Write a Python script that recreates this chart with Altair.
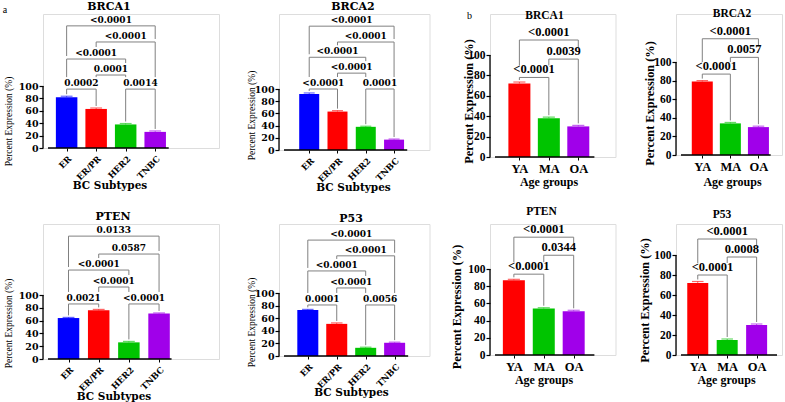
import json
import altair as alt
import pandas as pd

# ---------------- data ----------------
SUBTYPES = ["ER", "ER/PR", "HER2", "TNBC"]
AGE_GROUPS = ["YA", "MA", "OA"]
SUBTYPE_COLORS = ["#0000FF", "#FF0000", "#00C400", "#A000EA"]
AGE_COLORS = ["#FF0000", "#00C400", "#A000EA"]
Y_TICKS = [0, 20, 40, 60, 80, 100]

# panel a (BC subtypes)
A_BRCA1 = [82, 63, 38, 26]
A_BRCA1_ERR = [1.5, 1.5, 1.5, 1.5]
A_BRCA2 = [92, 63, 38, 17]
A_BRCA2_ERR = [1.5, 1.5, 1.0, 1.0]
A_PTEN = [64, 76, 26, 71]
A_PTEN_ERR = [1.0, 1.5, 1.5, 1.0]
A_P53 = [73, 51, 13, 21]
A_P53_ERR = [1.0, 1.5, 1.0, 1.0]

# panel b (age groups)
B_BRCA1 = [72, 38, 30]
B_BRCA1_ERR = [1.5, 1.0, 1.0]
B_BRCA2 = [79, 34, 30]
B_BRCA2_ERR = [1.0, 1.0, 1.0]
B_PTEN = [87, 54, 51]
B_PTEN_ERR = [1.0, 1.0, 1.0]
B_P53 = [72, 15, 30]
B_P53_ERR = [1.5, 1.0, 1.0]

# comparisons: (from group, to group, bracket height in %, p value)
A_BRCA1_P = [(0, 1, 95, "0.0002"), (2, 3, 95, "0.0014"), (1, 2, 117.7, "0.0001"),
             (0, 2, 143.5, "<0.0001"), (1, 3, 171, "<0.0001"), (0, 3, 197, "<0.0001")]
A_BRCA2_P = [(0, 1, 100, "<0.0001"), (2, 3, 100, "0.0001"), (1, 2, 126, "<0.0001"),
             (0, 2, 152, "<0.0001"), (1, 3, 177, "<0.0001"), (0, 3, 203, "<0.0001")]
A_PTEN_P = [(0, 1, 86, "0.0021"), (2, 3, 86, "<0.0001"), (1, 2, 112.5, "<0.0001"),
            (0, 2, 139, "<0.0001"), (1, 3, 164, "0.0587"), (0, 3, 192, "0.0133")]
A_P53_P = [(0, 1, 81, "0.0001"), (2, 3, 81, "0.0056"), (1, 2, 108, "<0.0001"),
           (0, 2, 135, "<0.0001"), (1, 3, 159, "<0.0001"), (0, 3, 184, "<0.0001")]
B_BRCA1_P = [(0, 1, 78, "<0.0001"), (1, 2, 96, "0.0039"), (0, 2, 114.7, "<0.0001")]
B_BRCA2_P = [(0, 1, 87, "<0.0001"), (1, 2, 105, "0.0057"), (0, 2, 125, "<0.0001")]
B_PTEN_P = [(0, 1, 94, "<0.0001"), (1, 2, 116, "0.0344"), (0, 2, 137, "<0.0001")]
B_P53_P = [(0, 1, 80, "<0.0001"), (1, 2, 98, "0.0008"), (0, 2, 116, "<0.0001")]

# ---------------- layout / style ----------------
COLW = [176, 150.5, 125.5, 106]
GEO = {
    "A1": dict(W=COLW[0], H=134, ppu=0.62, L=9, s=31.3, bw=21.5, axlen=128,
               title=(66, -7), yt=(-35, 107), xt=(66.5, 37), tag=("a", -38, -4)),
    "A2": dict(W=COLW[1], H=136, ppu=0.61, L=17, s=30.3, bw=20, axlen=132,
               title=(74, -7), yt=(-28, 101), xt=(74, 37)),
    "B1": dict(W=COLW[2], H=143, ppu=1.02, L=15.5, s=32, bw=22, axlen=108,
               title=(54.5, 2), yt=(-21.5, 87), xt=(58.5, 24), tag=("b", -20.5, 2)),
    "B2": dict(W=COLW[3], H=141, ppu=0.93, L=13, s=31, bw=21, axlen=99,
               title=(56, 0), yt=(-27, 89), xt=(56, 26)),
    "A3": dict(W=COLW[0], H=135, ppu=0.64, L=11, s=32, bw=21.5, axlen=131,
               title=(70, -7), yt=(-35, 99), xt=(70.5, 37)),
    "A4": dict(W=COLW[1], H=132, ppu=0.63, L=15, s=31, bw=21, axlen=133,
               title=(72, -5), yt=(-28, 98), xt=(72, 36)),
    "B3": dict(W=COLW[2], H=131, ppu=0.86, L=9.5, s=32.5, bw=22, axlen=108,
               title=(51.5, -12), yt=(-33.5, 82.5), xt=(53.5, 24)),
    "B4": dict(W=COLW[3], H=131, ppu=1.0, L=8, s=32.5, bw=21, axlen=106,
               title=(46, -9), yt=(-32, 76), xt=(50, 24)),
}

STYLE_A = dict(font="DejaVu Serif", ylab=9.5, xlab=8.5, xangle=-45, br=9, title=11,
               ytfont="Liberation Serif", ytsize=9.5, ytweight="normal",
               xtsize=10.5, xtitle="BC Subtypes", charw=6.0, tdy=-3, xpad=3)
STYLE_B = dict(font="Liberation Serif", ylab=11.5, xlab=12.5, xangle=0, br=12.5, title=11.5,
               ytfont="Liberation Serif", ytsize=12.3, ytweight="bold",
               xtsize=12, xtitle="Age groups", charw=5.8, tdy=-4, xpad=2)

BRACKET_COLOR = "#808080"


def bracket_frames(comps, vals, errs, g, st):
    hrows, vrows, trows = [], [], []
    for (i, j, lev, lab) in comps:
        for p in (i, j):
            lower = [c for c in comps if c[2] < lev and c[0] <= p <= c[1]]
            if lower:
                c = max(lower, key=lambda b: b[2])
                mid = (c[0] + c[1]) / 2
                half = len(c[3]) * st["charw"] / 2
                if abs(p - mid) * g["s"] < half - 1:
                    bot = c[2] + 12 / g["ppu"]
                else:
                    bot = c[2] + 3 / g["ppu"]
            else:
                bot = vals[p] + errs[p] + 2 / g["ppu"]
            vrows.append({"x": p, "y": lev, "y2": bot})
        hrows.append({"x": i, "x2": j, "y": lev})
        trows.append({"x": (i + j) / 2, "y": lev, "t": lab})
    return pd.DataFrame(hrows), pd.DataFrame(vrows), pd.DataFrame(trows)


def panel(key, title, cats, vals, errs, colors, comps, st):
    g = GEO[key]
    n = len(cats)
    ymax = g["H"] / g["ppu"]
    d0 = -(g["L"] + g["bw"] / 2) / g["s"]
    d1 = d0 + g["W"] / g["s"]
    xs = alt.Scale(domain=[d0, d1], nice=False, zero=False)
    ys = alt.Scale(domain=[0, ymax], nice=False, zero=False)

    df = pd.DataFrame({"idx": list(range(n)), "cat": cats, "val": vals, "col": colors,
                       "top": [v + e for v, e in zip(vals, errs)]})
    color = alt.Color("col:N", scale=None, legend=None)

    xaxis = alt.Axis(values=list(range(n)), labelExpr=json.dumps(cats) + "[datum.value]",
                     domain=False, grid=False, ticks=True, tickSize=3, tickColor="black",
                     labelOverlap=False, labelFlush=False,
                     labelAngle=st["xangle"], labelFont=st["font"], labelFontSize=st["xlab"],
                     labelFontWeight="bold", labelColor="black", labelPadding=st["xpad"],
                     title=st["xtitle"], titleFont=st["font"], titleFontSize=st["xtsize"],
                     titleFontWeight="bold", titleColor="black",
                     titleX=g["xt"][0], titleY=g["xt"][1], titleAlign="center",
                     titleBaseline="middle")
    yaxis = alt.Axis(values=Y_TICKS, tickCount=len(Y_TICKS), domain=False, grid=False,
                     tickSize=4, tickColor="black",
                     tickWidth=1.2, labelOverlap=False, labelFlush=False,
                     labelFont=st["font"], labelFontSize=st["ylab"],
                     labelFontWeight="bold", labelColor="black", labelPadding=1,
                     title="Percent Expression (%)", titleFont=st["ytfont"],
                     titleFontSize=st["ytsize"], titleFontWeight=st["ytweight"],
                     titleColor="black", titleAngle=270, titleX=g["yt"][0], titleY=g["yt"][1],
                     titleAlign="center", titleBaseline="middle")

    bars = alt.Chart(df).mark_bar(width=g["bw"]).encode(
        x=alt.X("idx:Q", scale=xs, axis=xaxis),
        y=alt.Y("val:Q", scale=ys, axis=yaxis),
        color=color)
    whisk = alt.Chart(df).mark_rule(strokeWidth=1, opacity=0.6).encode(
        x=alt.X("idx:Q", scale=xs, axis=xaxis), y=alt.Y("val:Q", scale=ys, axis=yaxis),
        y2="top:Q", color=color)
    caps = alt.Chart(df).mark_tick(orient="horizontal", size=g["bw"] * 0.55, thickness=1.2,
                                   opacity=0.6).encode(
        x=alt.X("idx:Q", scale=xs, axis=xaxis), y=alt.Y("top:Q", scale=ys, axis=yaxis),
        color=color)

    yline = alt.Chart(pd.DataFrame({"y0": [Y_TICKS[0]], "y1": [Y_TICKS[-1]]})).mark_rule(
        color="black", strokeWidth=1.3).encode(
        x=alt.value(0), y=alt.Y("y0:Q", scale=ys, axis=yaxis), y2="y1:Q")
    xline = alt.Chart(pd.DataFrame({"xa": [d0], "xb": [d0 + g["axlen"] / g["s"]], "yb": [0]})).mark_rule(
        color="black", strokeWidth=1.3).encode(
        x=alt.X("xa:Q", scale=xs, axis=xaxis), x2="xb:Q", y=alt.Y("yb:Q", scale=ys, axis=yaxis))

    hdf, vdf, tdf = bracket_frames(comps, vals, errs, g, st)
    hbr = alt.Chart(hdf).mark_rule(color=BRACKET_COLOR, strokeWidth=1).encode(
        x=alt.X("x:Q", scale=xs, axis=xaxis), x2="x2:Q", y=alt.Y("y:Q", scale=ys, axis=yaxis))
    vbr = alt.Chart(vdf).mark_rule(color=BRACKET_COLOR, strokeWidth=1).encode(
        x=alt.X("x:Q", scale=xs, axis=xaxis), y=alt.Y("y:Q", scale=ys, axis=yaxis), y2="y2:Q")
    tbr = alt.Chart(tdf).mark_text(font=st["font"], fontSize=st["br"], fontWeight="bold",
                                   color="black", baseline="alphabetic", dy=st["tdy"]).encode(
        x=alt.X("x:Q", scale=xs, axis=xaxis), y=alt.Y("y:Q", scale=ys, axis=yaxis), text="t:N")

    ttl = alt.Chart(pd.DataFrame({"t": [title]})).mark_text(
        font=st["font"], fontSize=st["title"], fontWeight="bold", color="black",
        align="center", baseline="middle").encode(
        x=alt.value(g["title"][0]), y=alt.value(g["title"][1]), text="t:N")

    layers = [bars, whisk, caps, yline, xline, hbr, vbr, tbr, ttl]
    if "tag" in g:
        tag = alt.Chart(pd.DataFrame({"t": [g["tag"][0]]})).mark_text(
            font="Liberation Serif", fontSize=10, color="black", align="center",
            baseline="middle").encode(
            x=alt.value(g["tag"][1]), y=alt.value(g["tag"][2]), text="t:N")
        layers.append(tag)
    return alt.layer(*layers).properties(width=g["W"], height=g["H"])


panels = [
    panel("A1", "BRCA1", SUBTYPES, A_BRCA1, A_BRCA1_ERR, SUBTYPE_COLORS, A_BRCA1_P, STYLE_A),
    panel("A2", "BRCA2", SUBTYPES, A_BRCA2, A_BRCA2_ERR, SUBTYPE_COLORS, A_BRCA2_P, STYLE_A),
    panel("B1", "BRCA1", AGE_GROUPS, B_BRCA1, B_BRCA1_ERR, AGE_COLORS, B_BRCA1_P, STYLE_B),
    panel("B2", "BRCA2", AGE_GROUPS, B_BRCA2, B_BRCA2_ERR, AGE_COLORS, B_BRCA2_P, STYLE_B),
    panel("A3", "PTEN", SUBTYPES, A_PTEN, A_PTEN_ERR, SUBTYPE_COLORS, A_PTEN_P, STYLE_A),
    panel("A4", "P53", SUBTYPES, A_P53, A_P53_ERR, SUBTYPE_COLORS, A_P53_P, STYLE_A),
    panel("B3", "PTEN", AGE_GROUPS, B_PTEN, B_PTEN_ERR, AGE_COLORS, B_PTEN_P, STYLE_B),
    panel("B4", "P53", AGE_GROUPS, B_P53, B_P53_ERR, AGE_COLORS, B_P53_P, STYLE_B),
]

chart = alt.concat(*panels, columns=4, spacing={"row": 67, "column": 60},
                   bounds="flush").properties(
    padding={"left": 2, "top": 0, "right": 0, "bottom": 0}
).configure_view(stroke=None).configure_axis(labelOverlap=False).configure(background="white")

chart.save("out.html", embed_options={"renderer": "svg", "actions": False})
